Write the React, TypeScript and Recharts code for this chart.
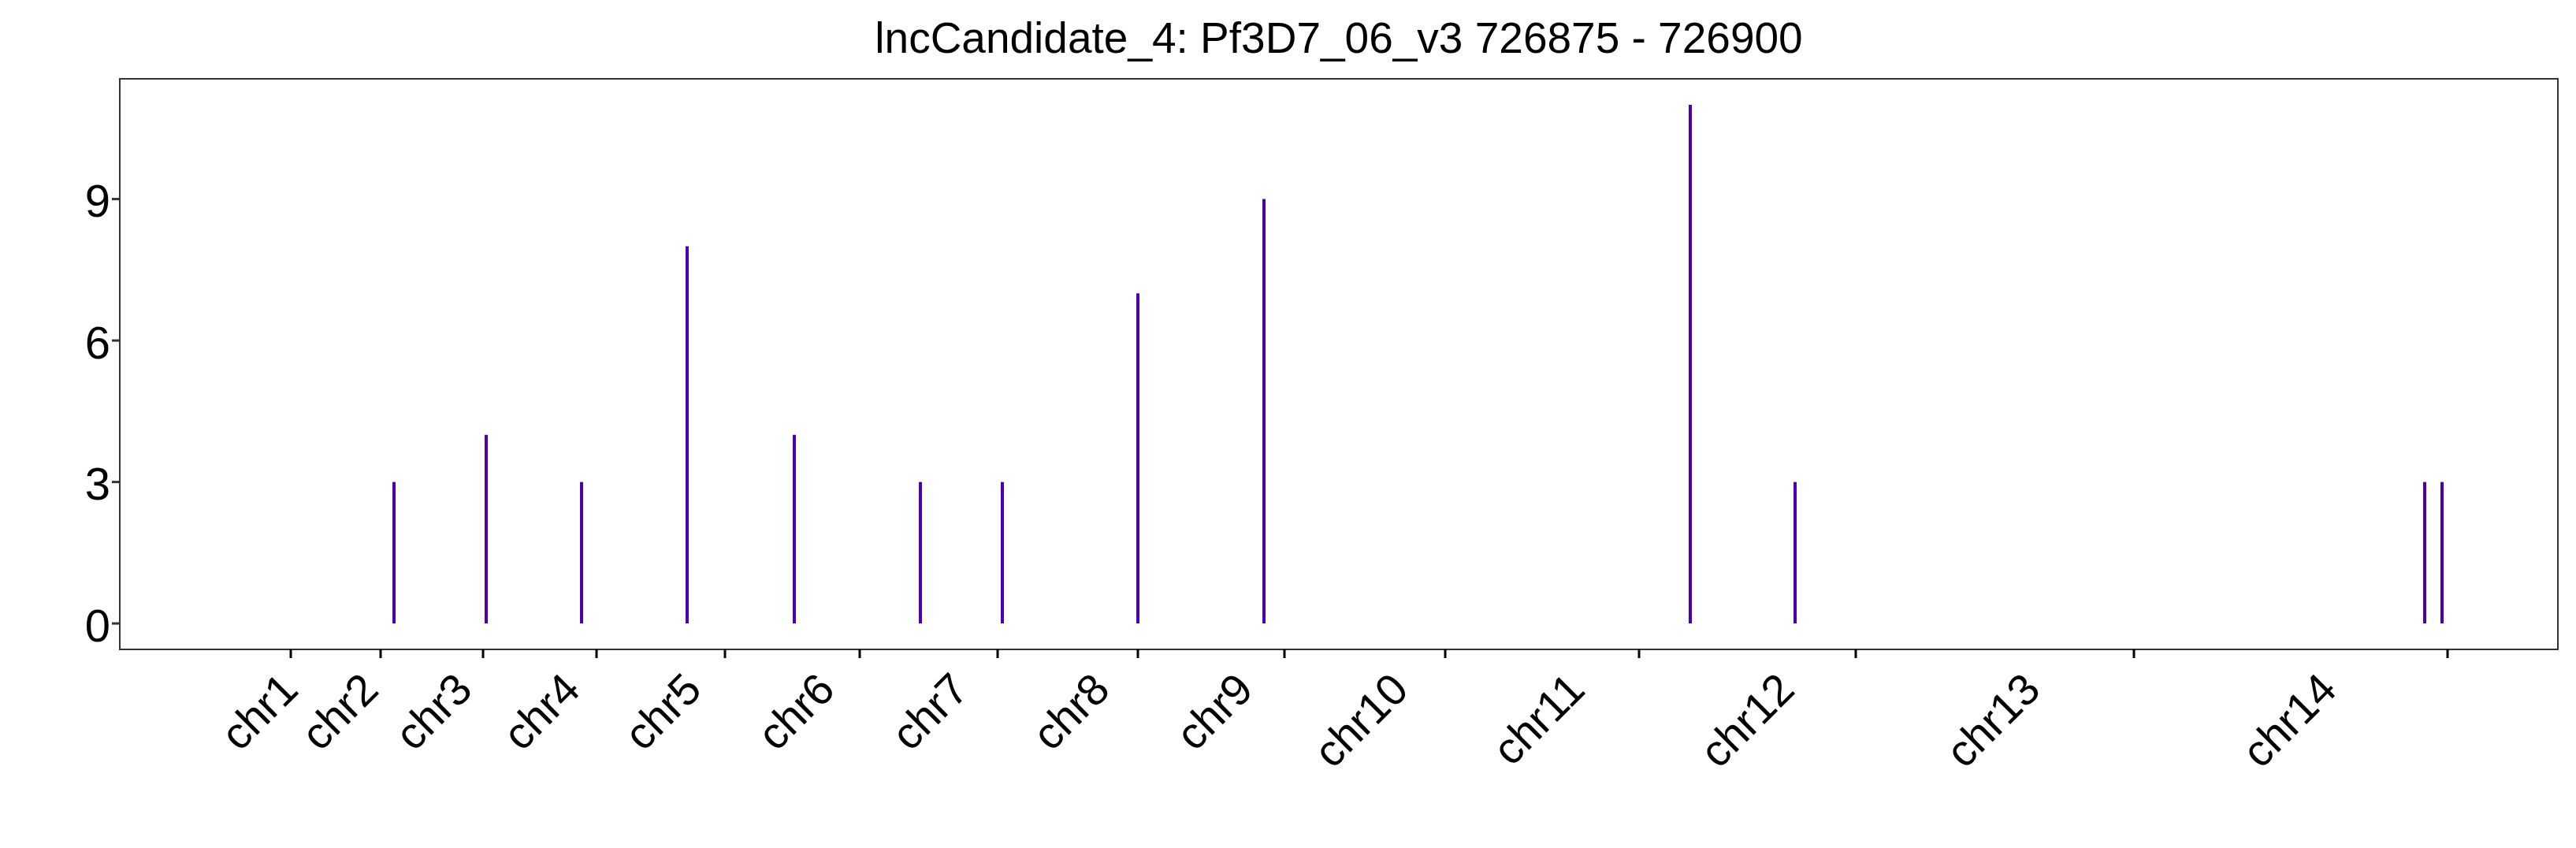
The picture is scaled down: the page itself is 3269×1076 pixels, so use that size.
import React from "react";
import { ComposedChart, Bar, XAxis, YAxis, ReferenceArea } from "recharts";

const chromosomes = ["chr1","chr2","chr3","chr4","chr5","chr6","chr7","chr8","chr9","chr10","chr11","chr12","chr13","chr14"];
const chromBoundaries = [217,331,461,605,768,939,1114,1292,1478,1682,1928,2203,2556,2954];
const chromLabelPos = [202,304,423,560,714,883,1053,1232,1414,1611,1835,2101,2413,2789];
const hitPositions = [348,465,586,720,856,1016,1120,1292,1452,1993,2126,2925,2947];
const hitCounts = [3,4,3,8,4,3,3,7,9,11,3,3,3];
const yTicks = [0,3,6,9];

const data = hitPositions.map((p, i) => ({ pos: p, count: hitCounts[i] }));
const labelOf: Record<number, string> = {};
chromLabelPos.forEach((t, i) => (labelOf[t] = chromosomes[i]));
const allTicks = [...chromBoundaries, ...chromLabelPos.map((v) => v + 0.001)];
const labelOfTick = (v: number) => labelOf[Math.round((v - 0.001) * 1000) / 1000];

const FONT = "Liberation Sans, Arial, sans-serif";

const XTick = (props: any) => {
  const { x, y, payload } = props;
  const v = payload.value;
  if (chromBoundaries.includes(v)) {
    return <line x1={x} x2={x} y1={y} y2={y + 11} stroke="#000" strokeWidth={3} />;
  }
  const name = labelOfTick(v);
  const bx = x + 27;
  const by = y + 54;
  return (
    <text
      x={bx}
      y={by}
      textAnchor="end"
      transform={`rotate(-45 ${bx} ${by})`}
      fontSize={56}
      fontFamily={FONT}
      fill="#000"
    >
      {name}
    </text>
  );
};

export default function App() {
  return (
    <div style={{ width: 3253, height: 1060, position: "relative" }}>
      <div
        style={{
          position: "absolute",
          left: 144,
          width: 3094,
          top: 8,
          textAlign: "center",
          fontSize: 55,
          fontFamily: FONT,
          color: "#000",
        }}
      >
        lncCandidate_4: Pf3D7_06_v3 726875 - 726900
      </div>
      <ComposedChart
        width={3253}
        height={1060}
        data={data}
        margin={{ top: 92, right: 15, left: 64, bottom: 44 }}
      >
        <XAxis
          dataKey="pos"
          type="number"
          domain={[0, 3094]}
          ticks={allTicks}
          interval={0}
          tick={<XTick />}
          axisLine={false}
          tickLine={false}
          tickSize={0}
          tickMargin={0}
          height={200}
          allowDataOverflow
        />
        <YAxis
          type="number"
          domain={[-0.55, 11.55]}
          ticks={yTicks}
          interval={0}
          axisLine={false}
          tickLine={{ stroke: "#333", strokeWidth: 3 }}
          tickSize={10}
          width={80}
          tick={{ fontSize: 58, fill: "#000", fontFamily: FONT, dy: 2 }}
          allowDataOverflow
        />
        <Bar dataKey="count" fill="#4B00B0" barSize={4} isAnimationActive={false} />
        <ReferenceArea x1={0} x2={3094} y1={-0.55} y2={11.55} fill="none" stroke="#333" strokeWidth={2} ifOverflow="visible" />
      </ComposedChart>
    </div>
  );
}
